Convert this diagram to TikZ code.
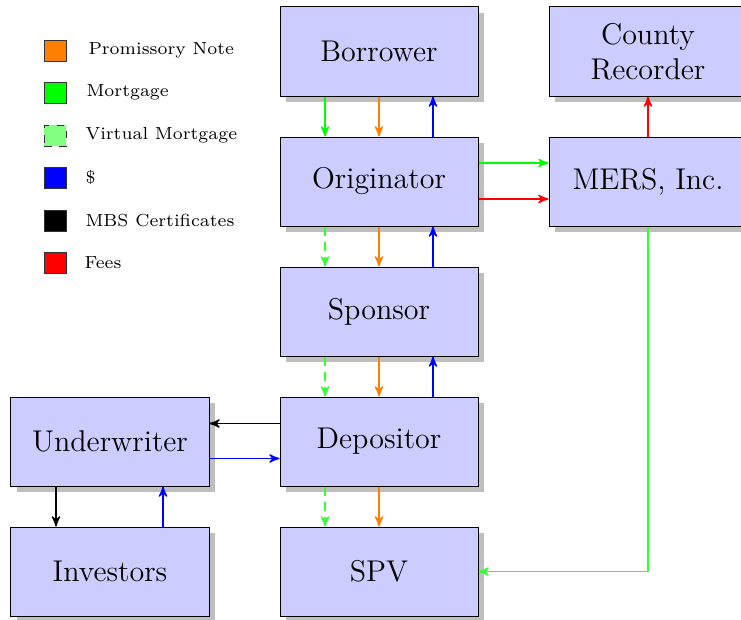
\documentclass[tikz,border=0pt]{standalone}
\usetikzlibrary{shadows,arrows,calc}
\definecolor{lgreen}{rgb}{0.2,1,0.2}
\tikzset{
  box/.style={draw=black, fill=blue!20, minimum width=79.2pt, minimum height=35.6pt,
    inner sep=2pt, align=center, font=\large,
    drop shadow={shadow xshift=2.4pt, shadow yshift=-2.4pt}},
  flow/.style={-stealth', line width=0.55pt},
  vdash/.style={dash pattern=on 3.6pt off 2.4pt},
  lsq/.style={draw=black!80, minimum width=8.8pt, minimum height=8.4pt, inner sep=0pt},
  ltxt/.style={anchor=west, inner sep=0pt, font=\scriptsize}
}
\begin{document}
\begin{tikzpicture}[x=0.4pt,y=-0.4pt]
\useasboundingbox (0,0) rectangle (741,620);
% nodes
\node[box] (borrower) at (379,51.5) {Borrower};
\node[box] (county) at (648,51.5) {County\\Recorder};
\node[box] (orig) at (379,181.5) {Originator};
\node[box] (mers) at (648,181.5) {MERS, Inc.};
\node[box] (sponsor) at (379,311.5) {Sponsor};
\node[box] (dep) at (379,441.5) {Depositor};
\node[box] (under) at (110,441.5) {Underwriter};
\node[box] (inv) at (110,571.5) {Investors};
\node[box] (spv) at (379,571.5) {SPV};
% vertical chain
\draw[flow, green] ($(borrower.south)+(-54,0)$) -- ($(orig.north)+(-54,0)$);
\draw[flow, orange] (borrower.south) -- (orig.north);
\draw[flow, blue] ($(orig.north)+(54,0)$) -- ($(borrower.south)+(54,0)$);
\draw[flow, lgreen, vdash] ($(orig.south)+(-54,0)$) -- ($(sponsor.north)+(-54,0)$);
\draw[flow, orange] (orig.south) -- (sponsor.north);
\draw[flow, blue] ($(sponsor.north)+(54,0)$) -- ($(orig.south)+(54,0)$);
\draw[flow, lgreen, vdash] ($(sponsor.south)+(-54,0)$) -- ($(dep.north)+(-54,0)$);
\draw[flow, orange] (sponsor.south) -- (dep.north);
\draw[flow, blue] ($(dep.north)+(54,0)$) -- ($(sponsor.south)+(54,0)$);
\draw[flow, lgreen, vdash] ($(dep.south)+(-54,0)$) -- ($(spv.north)+(-54,0)$);
\draw[flow, orange] (dep.south) -- (spv.north);
% originator to MERS
\draw[flow, green] ($(orig.east)+(0,-18.5)$) -- ($(mers.west)+(0,-18.5)$);
\draw[flow, red] ($(orig.east)+(0,17.5)$) -- ($(mers.west)+(0,17.5)$);
\draw[flow, red] (mers.north) -- (county.south);
\draw[flow, lgreen] (mers.south) |- (spv.east);
% depositor - underwriter
\draw[flow, black] ($(dep.west)+(0,-18)$) -- ($(under.east)+(0,-18)$);
\draw[flow, blue] ($(under.east)+(0,17)$) -- ($(dep.west)+(0,17)$);
\draw[flow, black] ($(under.south)+(-54,0)$) -- ($(inv.north)+(-54,0)$);
\draw[flow, blue] ($(inv.north)+(53,0)$) -- ($(under.south)+(53,0)$);
% legend
\node[lsq, fill=orange] (s1) at (55,50.5) {};
\node[lsq, fill=green] (s2) at (55,92.5) {};
\node[lsq, fill=green!50, dashed] (s3) at (55,135.5) {};
\node[lsq, fill=blue] (s4) at (55,177.5) {};
\node[lsq, fill=black] (s5) at (55,220.5) {};
\node[lsq, fill=red] (s6) at (55,262.5) {};
\node[ltxt] (t1) at (88,50.5) {Promissory Note};
\node[ltxt] (t2) at (86,92.5) {Mortgage};
\node[ltxt] (t3) at (85,135.5) {Virtual Mortgage};
\node[ltxt] (t4) at (85,177.5) {\$};
\node[ltxt] (t5) at (85,220.5) {MBS Certificates};
\node[ltxt] (t6) at (84,262.5) {Fees};
\end{tikzpicture}
\end{document}
